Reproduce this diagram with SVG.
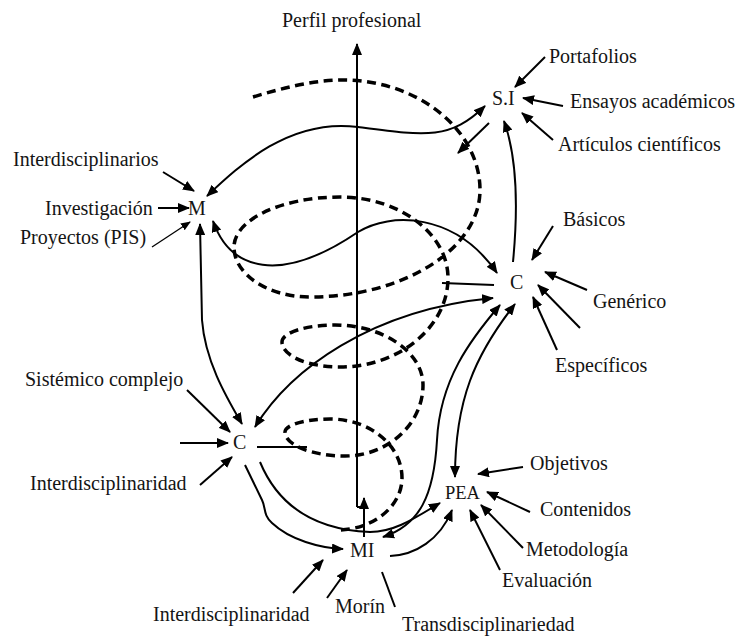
<svg xmlns="http://www.w3.org/2000/svg" width="740" height="637" viewBox="0 0 740 637">
<style>
text{font-family:"Liberation Serif","Times New Roman",serif;font-size:20px;fill:#141414}
.ln{fill:none;stroke:#000;stroke-width:2}
.a{marker-end:url(#ah)}
.b{marker-start:url(#ah);marker-end:url(#ah)}
.thin{fill:none;stroke:#000;stroke-width:1.3;marker-end:url(#ahs)}
.dash{fill:none;stroke:#000;stroke-width:3.5;stroke-dasharray:9 5.5}
</style>
<defs>
<marker id="ah" viewBox="0 0 12 10" refX="11" refY="5" markerWidth="12" markerHeight="10" markerUnits="userSpaceOnUse" orient="auto-start-reverse"><path d="M0,0 L12,5 L0,10 z" fill="#000"/></marker>
<marker id="ahs" viewBox="0 0 10 8" refX="9" refY="4" markerWidth="10" markerHeight="8" markerUnits="userSpaceOnUse" orient="auto"><path d="M0,0 L10,4 L0,8 z" fill="#000"/></marker>
</defs>
<rect width="740" height="637" fill="#fff"/>
<g id="spiral">
<path class="dash" d="M253,97 C283,88 313,80 343,80 C418,80 480,130 480,190 C480,249 403.5,297 310,297 C268,297 234,274.5 234,247 C234,219.5 282,197 340,197 C399,197 448,233.5 448,278 C448,327 399,367 340,367 C308,367 282,356 282,342 C282,332.6 306,325 335,325 C383,325 423,352 423,385 C423,424 388,456 345,456 C312,456 285,445 285,432 C285,425 305,419 330,419 C370,419 402,445.5 402,478 C402,506.6 372.75,530 337,530"/>
</g>
<g id="connectors">
<path class="ln a" d="M357,507 L357,44"/>
<path class="ln" d="M357,507 L364,507"/>
<path class="ln a" d="M364,537 L364,498"/>
<path class="ln b" d="M207,196 C240,165 290,118 358,127 C426,136 450,140 485,106"/>
<path class="ln b" d="M213,221 C230,270 280,285 358,232 C390,212 455,212 497,273"/>
<path class="ln b" d="M200,224 L202,320 C205,360 225,395 242,424"/>
<path class="ln b" d="M255,427 C290,370 370,310 493,298"/>
<path class="ln a" d="M513,262 C518,210 518,160 504,121"/>
<path class="ln a" d="M489,123 L458,153"/>
<path class="ln a" d="M545,57 L515,87"/>
<path class="ln a" d="M563,106 L523,98"/>
<path class="ln a" d="M553,140 L522,113"/>
<path class="ln a" d="M553,226 L532,260"/>
<path class="ln a" d="M587,290 L545,272"/>
<path class="ln a" d="M580,328 L538,285"/>
<path class="ln a" d="M557,350 L533,297"/>
<path class="ln" d="M442,283 L494,285"/>
<path class="ln b" d="M515,304 C475,355 455,400 455,477"/>
<path class="ln b" d="M500,305 C470,340 440,380 437,440 C434,495 420,525 383,537"/>
<path class="ln a" d="M245,465 L262,500 C266,508 263,515 272,523 C290,540 320,548 343,549"/>
<path class="ln a" d="M260,462 C280,510 320,530 370,532 C395,532 415,518 440,503"/>
<path class="ln a" d="M390,556 C415,555 440,540 452,510"/>
<path class="ln a" d="M523,467 L478,474"/>
<path class="ln a" d="M530,512 L487,492"/>
<path class="ln a" d="M523,548 L481,505"/>
<path class="ln a" d="M500,570 L470,510"/>
<path class="ln" d="M395,607 L382,572"/>
<path class="ln a" d="M293,593 L323,560"/>
<path class="ln a" d="M327,598 L347,570"/>
<path class="ln a" d="M163,172 L194,191"/>
<path class="ln a" d="M158,208 L189,208"/>
<path class="thin" d="M152,247 L190,222"/>
<path class="ln a" d="M187,390 L230,432"/>
<path class="ln a" d="M180,443 L228,443"/>
<path class="ln a" d="M200,485 L232,457"/>
<path class="ln" d="M257,447 L307,447"/>
</g>
<g id="perfil"><text x="282" y="27">Perfil profesional</text></g>
<g id="si"><text x="492" y="105">S.I</text></g>
<g id="portafolios"><text x="549" y="63">Portafolios</text></g>
<g id="ensayos"><text x="570" y="108">Ensayos académicos</text></g>
<g id="articulos"><text x="558" y="151">Artículos científicos</text></g>
<g id="m"><text x="188" y="215">M</text></g>
<g id="interdisciplinarios"><text x="13" y="166">Interdisciplinarios</text></g>
<g id="investigacion"><text x="45" y="215">Investigación</text></g>
<g id="proyectos"><text x="20" y="244">Proyectos (PIS)</text></g>
<g id="c-right"><text x="510" y="289">C</text></g>
<g id="basicos"><text x="563" y="226">Básicos</text></g>
<g id="generico"><text x="593" y="308">Genérico</text></g>
<g id="especificos"><text x="555" y="372">Específicos</text></g>
<g id="c-left"><text x="233" y="449">C</text></g>
<g id="sistemico"><text x="25" y="386">Sistémico complejo</text></g>
<g id="interdisciplinaridad-1"><text x="30" y="490">Interdisciplinaridad</text></g>
<g id="pea"><text x="445" y="499" style="font-size:18.5px">PEA</text></g>
<g id="objetivos"><text x="530" y="470">Objetivos</text></g>
<g id="contenidos"><text x="540" y="516">Contenidos</text></g>
<g id="metodologia"><text x="526" y="556">Metodología</text></g>
<g id="evaluacion"><text x="502" y="587">Evaluación</text></g>
<g id="mi"><text x="350" y="557">MI</text></g>
<g id="morin"><text x="335" y="613">Morín</text></g>
<g id="interdisciplinaridad-2"><text x="153" y="621">Interdisciplinaridad</text></g>
<g id="transdisciplinariedad"><text x="402" y="631">Transdisciplinariedad</text></g>
</svg>
